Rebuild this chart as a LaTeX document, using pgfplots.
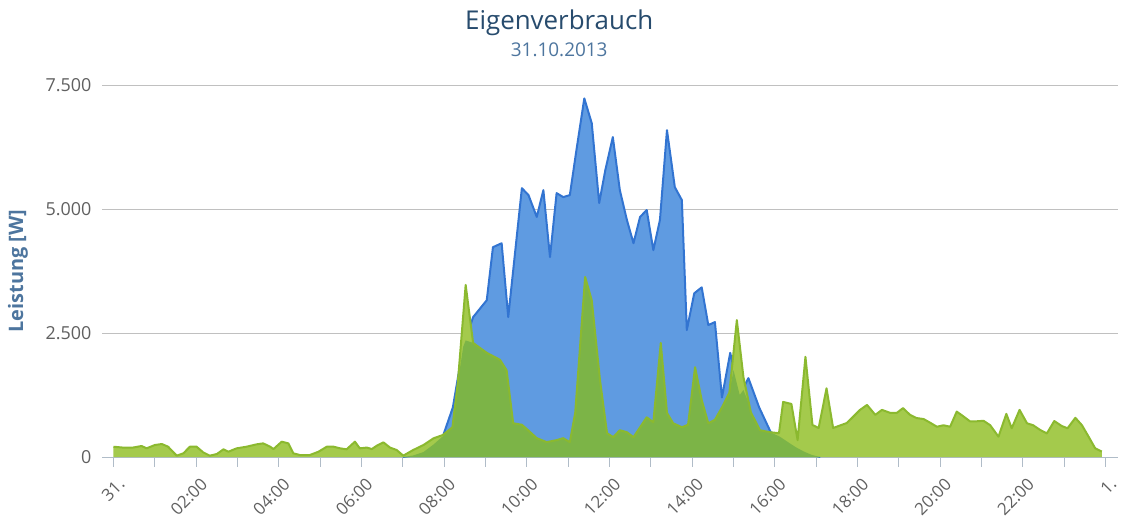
\documentclass[border=0pt]{standalone}
\usepackage{pgfplots}
\pgfplotsset{compat=1.18}
\usepackage{pgfplotstable}
\usepackage{fontspec}
\setmainfont{Open Sans}
\definecolor{prodfill}{HTML}{5F9BE1}
\definecolor{prodline}{HTML}{3274D1}
\definecolor{consfill}{HTML}{A4CA4C}
\definecolor{consline}{HTML}{8BB92F}
\definecolor{selffill}{HTML}{7CB447}
\definecolor{titlecol}{HTML}{274B6D}
\definecolor{subcol}{HTML}{4D759E}
\definecolor{tickcol}{HTML}{606060}
\definecolor{gridcol}{HTML}{C0C0C0}
\definecolor{axcol}{HTML}{B0BCC8}

\pgfplotstableread{
x y
7.0 0
7.25 30
7.5 100
7.74 250
7.97 420
8.21 1000
8.46 2220
8.7 2820
9.03 3160
9.18 4230
9.39 4310
9.55 2820
9.88 5420
10.04 5280
10.24 4840
10.4 5380
10.56 4030
10.72 5320
10.88 5240
11.04 5280
11.2 6190
11.39 7230
11.57 6730
11.75 5120
11.9 5790
12.08 6450
12.25 5380
12.42 4780
12.58 4310
12.74 4840
12.9 4980
13.06 4170
13.22 4780
13.39 6590
13.58 5440
13.75 5180
13.87 2560
14.05 3300
14.23 3420
14.39 2660
14.55 2720
14.72 1200
14.92 2100
15.15 1250
15.36 1590
15.62 1000
15.9 500
16.1 420
16.3 310
16.5 200
16.7 110
16.9 40
17.1 0
}\prod

\pgfplotstableread{
x y
0.0 207
0.23 190
0.47 190
0.68 222
0.8 175
1.0 242
1.17 262
1.32 208
1.53 27
1.69 74
1.85 208
2.01 208
2.17 94
2.33 27
2.5 60
2.66 155
2.78 107
2.98 175
3.22 208
3.46 255
3.62 275
3.79 208
3.87 160
4.07 309
4.23 275
4.35 74
4.51 40
4.75 40
4.96 107
5.16 208
5.32 208
5.48 175
5.64 155
5.84 309
5.96 175
6.13 190
6.25 160
6.37 228
6.53 295
6.69 190
6.85 141
7.01 27
7.25 141
7.5 242
7.74 376
7.97 444
8.2 600
8.33 1500
8.52 3470
8.7 2300
9.03 2100
9.35 1960
9.51 1750
9.67 680
9.88 650
10.03 540
10.24 380
10.48 300
10.72 340
10.88 380
11.04 300
11.17 890
11.41 3630
11.57 3160
11.77 1550
11.94 480
12.09 400
12.25 540
12.42 500
12.58 400
12.74 600
12.9 800
13.06 700
13.24 2300
13.39 890
13.54 680
13.75 600
13.9 650
14.07 1810
14.23 1150
14.39 680
14.55 750
14.72 1000
14.9 1300
15.08 2760
15.24 1610
15.42 900
15.64 540
15.88 500
16.1 480
16.2 1110
16.4 1070
16.55 340
16.74 2020
16.91 645
17.06 585
17.25 1385
17.41 585
17.74 685
18.06 950
18.23 1050
18.43 850
18.59 950
18.79 890
18.95 890
19.1 985
19.27 850
19.43 785
19.6 765
19.76 690
19.92 610
20.08 640
20.24 610
20.4 915
20.56 820
20.72 720
20.88 720
21.05 730
21.21 640
21.41 410
21.6 870
21.73 580
21.92 950
22.1 680
22.25 640
22.42 545
22.58 475
22.76 725
22.94 625
23.08 580
23.27 790
23.43 640
23.59 410
23.75 175
23.91 110
}\cons

\pgfplotstableread{
x y
7.0 0
7.25 30
7.5 100
7.74 250
7.97 420
8.2 600
8.33 1500
8.46 2220
8.52 2350
8.7 2300
9.03 2100
9.35 1960
9.51 1750
9.67 680
9.88 650
10.03 540
10.24 380
10.48 300
10.72 340
10.88 380
11.04 300
11.17 890
11.41 3630
11.57 3160
11.77 1550
11.94 480
12.09 400
12.25 540
12.42 500
12.58 400
12.74 600
12.9 800
13.06 700
13.24 2300
13.39 890
13.54 680
13.75 600
13.9 650
14.07 1810
14.23 1150
14.39 680
14.55 750
14.72 1000
14.9 1300
15.0 1750
15.15 1250
15.24 1350
15.36 1100
15.42 900
15.64 540
15.88 500
16.1 420
16.3 310
16.5 200
16.7 110
16.9 40
17.1 0
}\selfc

\begin{document}
\begin{tikzpicture}
\begin{axis}[
  at={(102bp,60bp)}, anchor=south west,
  scale only axis, width=1016bp, height=372bp,
  xmin=-0.278, xmax=24.302, ymin=0, ymax=7500,
  axis x line*=bottom, axis y line*=left,
  x axis line style={draw=axcol, line width=1bp, -},
  y axis line style={draw=none},
  xtick={0,1,...,24},
  xticklabels={31.,,02:00,,04:00,,06:00,,08:00,,10:00,,12:00,,14:00,,16:00,,18:00,,20:00,,22:00,,1.},
  tick align=outside,
  major tick length=10bp,
  xtick style={draw=axcol, line width=1bp},
  ytick style={draw=none},
  ytick={0,2500,5000,7500},
  yticklabels={0,2.500,5.000,7.500},
  ymajorgrids, grid style={draw=gridcol, line width=1bp},
  tick label style={text=tickcol},
  xticklabel style={font=\fontsize{17}{19}\selectfont, rotate=45, anchor=north east, xshift=-1bp, yshift=-6bp},
  yticklabel style={font=\fontsize{18}{20}\selectfont, anchor=east, xshift=3bp},
  ylabel={\textbf{Leistung [W]}},
  ylabel style={at={(axis description cs:0,0.5)}, anchor=center, yshift=84bp, font=\fontsize{20}{22}\selectfont, text=subcol},
  clip=false,
]
\addplot[fill=prodfill, draw=none] table {\prod} \closedcycle;
\addplot[draw=prodline, line width=2bp, line join=round] table {\prod};
\addplot[fill=consfill, draw=none] table {\cons} \closedcycle;
\addplot[fill=selffill, draw=none] table {\selfc} \closedcycle;
\addplot[draw=consline, line width=2bp, line join=round] table {\cons};
\node[font=\fontsize{26}{28}\selectfont, text=titlecol] at (rel axis cs:0.45,1) [yshift=62bp] {Eigenverbrauch};
\node[font=\fontsize{19}{21}\selectfont, text=subcol] at (rel axis cs:0.45,1) [yshift=35bp] {31.10.2013};
\end{axis}
\pgfresetboundingbox
\useasboundingbox (0bp,0bp) rectangle (1122bp,517bp);
\end{tikzpicture}
\end{document}
